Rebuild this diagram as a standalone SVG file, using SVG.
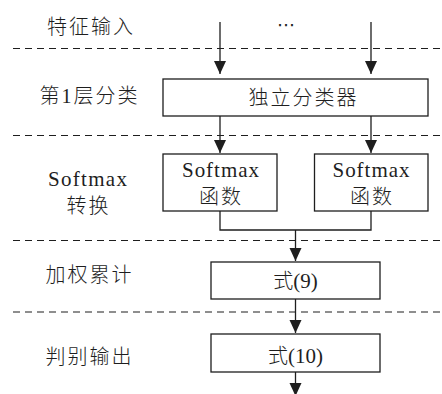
<svg xmlns="http://www.w3.org/2000/svg" width="442" height="394" viewBox="0 0 442 394">
<style>
.bg{fill:#ffffff}
.box{fill:#ffffff;stroke:#1e1e1e;stroke-width:1.3}
.sep{stroke:#1e1e1e;stroke-width:1.2;stroke-dasharray:7 5;fill:none}
.cn{stroke:#1e1e1e;stroke-width:1.3;fill:none}
.arr{marker-end:url(#ah)}
.t{font-family:"Liberation Serif","Noto Sans CJK SC",serif;font-size:20px;font-weight:300;fill:#1e1e1e;text-anchor:middle}
.cjk{letter-spacing:2px}
.lat{font-size:21px;letter-spacing:0;font-weight:400}
</style>
<defs>
<marker id="ah" markerUnits="userSpaceOnUse" markerWidth="13" markerHeight="13" refX="13" refY="6" orient="auto" viewBox="0 0 13 12">
<path d="M0,0 L13,6 L0,12 Z" fill="#1e1e1e"/>
</marker>
</defs>
<rect class="bg" x="0" y="0" width="442" height="394"/>
<g id="separators">
<line class="sep" x1="13" y1="48.5" x2="442" y2="48.5"/>
<line class="sep" x1="13" y1="135.5" x2="442" y2="135.5"/>
<line class="sep" x1="13" y1="240.5" x2="442" y2="240.5"/>
<line class="sep" x1="13" y1="312" x2="442" y2="312"/>
</g>
<g id="layer-labels">
<text class="t cjk" x="91" y="34">特征输入</text>
<text class="t cjk" x="89.5" y="102.5">第1层分类</text>
<text class="t lat" x="87.5" y="185.5" textLength="79" lengthAdjust="spacing">Softmax</text>
<text class="t cjk" x="88.5" y="213">转换</text>
<text class="t cjk" x="89.5" y="281.5">加权累计</text>
<text class="t cjk" x="89.5" y="364">判别输出</text>
</g>
<g id="ellipsis">
<text x="286" y="31" style="font-family:'DejaVu Sans',sans-serif;font-size:18px;fill:#1e1e1e;text-anchor:middle">⋯</text>
</g>
<g id="connectors">
<path class="cn arr" d="M220,22 V74"/>
<path class="cn arr" d="M371,22 V74"/>
<path class="cn arr" d="M220,116 V153"/>
<path class="cn arr" d="M371,116 V153"/>
<path class="cn" d="M220,211 V230 H371 V211"/>
<path class="cn arr" d="M295.5,230 V261"/>
<path class="cn arr" d="M295.5,299 V333"/>
<path class="cn arr" d="M295.5,372 V396"/>
</g>
<g id="classifier">
<rect class="box" x="163" y="79" width="265" height="37"/>
<text class="t cjk" x="303.5" y="104.5">独立分类器</text>
</g>
<g id="softmax1">
<rect class="box" x="163" y="154" width="114" height="57"/>
<text class="t lat" x="220.5" y="177" textLength="77" lengthAdjust="spacing">Softmax</text>
<text class="t cjk" x="221" y="204">函数</text>
</g>
<g id="softmax2">
<rect class="box" x="314.5" y="154" width="113.5" height="57"/>
<text class="t lat" x="371" y="177" textLength="77" lengthAdjust="spacing">Softmax</text>
<text class="t cjk" x="372" y="204">函数</text>
</g>
<g id="eq9">
<rect class="box" x="211" y="262" width="169" height="37"/>
<text class="t" x="295.5" y="287.5">式<tspan class="lat">(9)</tspan></text>
</g>
<g id="eq10">
<rect class="box" x="211" y="334" width="169" height="38"/>
<text class="t" x="295.5" y="362.5">式<tspan class="lat">(10)</tspan></text>
</g>
</svg>
